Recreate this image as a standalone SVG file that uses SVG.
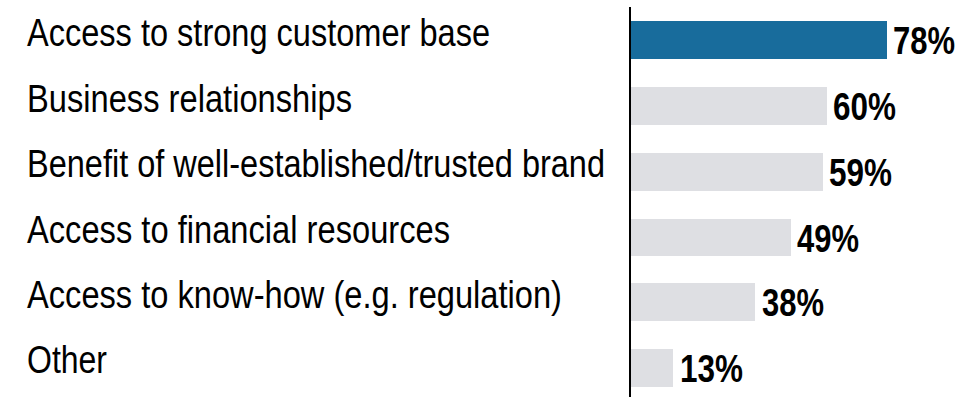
<svg xmlns="http://www.w3.org/2000/svg" width="974" height="397" viewBox="0 0 974 397">
<style>
.lbl{font-family:"Liberation Sans Narrow","Liberation Sans",Arial,sans-serif;font-size:38px;fill:#000}
.val{font-family:"Liberation Sans Narrow","Liberation Sans",Arial,sans-serif;font-size:38px;font-weight:bold;fill:#000}
.bar{fill:#DEDFE3}
.hi{fill:#186C9C}
</style>
<rect width="974" height="397" fill="#fff"/>
<g id="row1">
<text class="lbl" x="27" y="46" textLength="463" lengthAdjust="spacingAndGlyphs">Access to strong customer base</text>
<rect class="hi" x="631" y="21" width="256" height="38"/>
<text class="val" x="893" y="54" textLength="62" lengthAdjust="spacingAndGlyphs">78%</text>
</g>
<g id="row2">
<text class="lbl" x="27" y="112" textLength="325" lengthAdjust="spacingAndGlyphs">Business relationships</text>
<rect class="bar" x="631" y="87" width="196" height="38"/>
<text class="val" x="833" y="120" textLength="63" lengthAdjust="spacingAndGlyphs">60%</text>
</g>
<g id="row3">
<text class="lbl" x="27" y="177" textLength="578" lengthAdjust="spacingAndGlyphs">Benefit of well-established/trusted brand</text>
<rect class="bar" x="631" y="153" width="192" height="38"/>
<text class="val" x="829" y="186" textLength="63" lengthAdjust="spacingAndGlyphs">59%</text>
</g>
<g id="row4">
<text class="lbl" x="27" y="243" textLength="423" lengthAdjust="spacingAndGlyphs">Access to financial resources</text>
<rect class="bar" x="631" y="219" width="160" height="37"/>
<text class="val" x="797" y="252" textLength="62" lengthAdjust="spacingAndGlyphs">49%</text>
</g>
<g id="row5">
<text class="lbl" x="27" y="308" textLength="535" lengthAdjust="spacingAndGlyphs">Access to know-how (e.g. regulation)</text>
<rect class="bar" x="631" y="283" width="124" height="38"/>
<text class="val" x="762" y="316" textLength="62" lengthAdjust="spacingAndGlyphs">38%</text>
</g>
<g id="row6">
<text class="lbl" x="27" y="373" textLength="80" lengthAdjust="spacingAndGlyphs">Other</text>
<rect class="bar" x="631" y="349" width="42" height="38"/>
<text class="val" x="680" y="382" textLength="63" lengthAdjust="spacingAndGlyphs">13%</text>
</g>
<g id="axis">
<line x1="630" y1="7" x2="630" y2="397" stroke="#000" stroke-width="2"/>
</g>
</svg>
